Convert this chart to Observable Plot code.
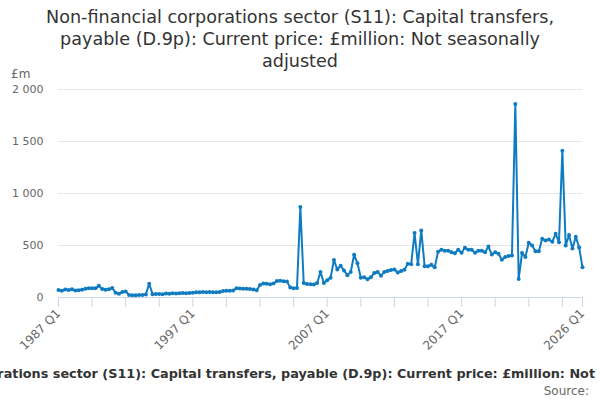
<!DOCTYPE html>
<html><head><meta charset="utf-8">
<script src="https://cdn.jsdelivr.net/npm/d3@7"></script>
<script src="https://cdn.jsdelivr.net/npm/@observablehq/plot@0.6"></script>
<style>
body{margin:0;width:600px;height:400px;position:relative;overflow:hidden;font-family:"DejaVu Sans",sans-serif;background:#fff}
#title{position:absolute;top:6px;left:0;width:600px;text-align:center;font-size:17.6px;line-height:22px;color:#333}
#unit{position:absolute;left:11px;top:67px;font-size:12px;color:#666}
#chart{position:absolute;left:0;top:72px}
#caption{position:absolute;top:366px;left:-150px;width:900px;text-align:center;font-size:12.8px;font-weight:bold;color:#333;white-space:nowrap}
#source{position:absolute;top:384px;right:11px;font-size:12px;color:#666}
</style></head><body>
<div id="title">Non-financial corporations sector (S11): Capital transfers,<br>payable (D.9p): Current price: £million: Not seasonally<br>adjusted</div>
<div id="unit">£m</div>
<div id="chart"></div>
<div id="caption">Non-financial corporations sector (S11): Capital transfers, payable (D.9p): Current price: £million: Not seasonally adjusted</div>
<div id="source">Source:</div>
<script>
const startYear = 1987;
const quarterCount = 157;
const values = [
  72, 65, 78, 72, 80, 68, 70, 75, 85, 88, 90, 88,
  112, 82, 75, 80, 92,
  45, 35, 52, 58, 25, 22, 22, 24, 25, 28, 132,
  32, 33, 34, 32,
  38, 36, 40, 38,
  42, 43, 42, 44, 45,
  50, 50, 52, 50, 52, 51, 50, 53,
  62, 65, 64, 68,
  88, 86, 84, 85, 82, 78, 70,
  120, 135, 132, 128, 135,
  158, 160, 156, 155,
  95, 90, 92,
  870,
  140, 130, 128, 125, 140, 245, 140,
  165, 190, 360, 270, 305, 260, 215, 245, 410, 330,
  190, 195, 175, 195, 235, 245, 210, 245, 255, 265,
  270, 240, 255, 268, 325, 320, 620, 320, 645, 300,
  300, 315, 290, 440, 460, 450, 450, 435, 425, 460,
  430, 478, 458, 458, 430, 450, 450, 435, 490, 413,
  435, 420, 362, 390, 400, 405, 1860, 178, 428, 390,
  526, 500, 445, 445, 565, 548, 558, 535, 613, 532,
  1410, 500, 600, 470, 585, 480, 290
];
const xTickLabels = ["1987 Q1", "1997 Q1", "2007 Q1", "2017 Q1", "2026 Q1"];
const yTicks = [0, 500, 1000, 1500, 2000];

const quarters = [];
for (let i = 0; i < quarterCount; i++) {
  quarters.push(`${startYear + Math.floor(i / 4)} Q${(i % 4) + 1}`);
}
const data = quarters.map((q, i) => ({q, v: values[i]}));
const xTicks = quarters.filter((q, i) => i % 10 === 0 || i === quarterCount - 1);
const fmt = d => d3.format(",")(d).replace(/,/g, " ");
const color = "#0f7cc1";

const chart = Plot.plot({
  width: 600,
  height: 290,
  marginTop: 17,
  marginLeft: 58,
  marginRight: 18,
  marginBottom: 65,
  style: {fontFamily: "DejaVu Sans", fontSize: "11px", color: "#666", background: "transparent"},
  x: {type: "point", domain: quarters, padding: 0},
  y: {domain: [0, 2000]},
  marks: [
    Plot.gridY(yTicks.slice(1), {stroke: "#e6e6e6", strokeOpacity: 1}),
    Plot.axisY(yTicks, {tickSize: 0, tickPadding: 15, tickFormat: fmt, label: null}),
    Plot.ruleY([0], {stroke: "#ccd6eb"}),
    Plot.axisX(xTicks, {tickSize: 10, tickPadding: 4, tickRotate: -45, stroke: "#ccd6eb", fill: "#666", fontSize: 12,
      tickFormat: d => xTickLabels.includes(d) ? d : "", label: null}),
    Plot.line(data, {x: "q", y: "v", stroke: color, strokeWidth: 2}),
    Plot.dot(data, {x: "q", y: "v", r: 2, fill: color})
  ]
});
document.getElementById("chart").appendChild(chart);
</script>
</body></html>
